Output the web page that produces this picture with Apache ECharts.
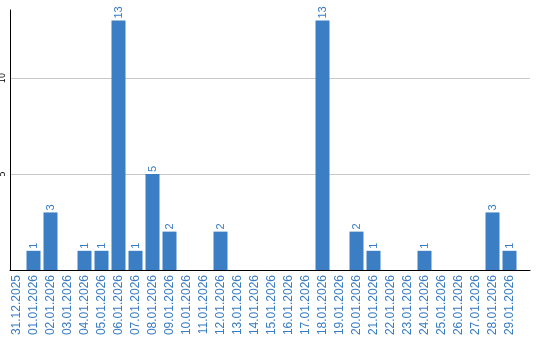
<!DOCTYPE html>
<html><head><meta charset="utf-8">
<script src="https://cdn.jsdelivr.net/npm/echarts@6/dist/echarts.min.js"></script>
<style>html,body{margin:0;padding:0;background:#fff}#c{width:540px;height:340px}</style>
</head><body><div id="c"></div>
<script>
const categories = ["31.12.2025","01.01.2026","02.01.2026","03.01.2026","04.01.2026","05.01.2026","06.01.2026","07.01.2026","08.01.2026","09.01.2026","10.01.2026","11.01.2026","12.01.2026","13.01.2026","14.01.2026","15.01.2026","16.01.2026","17.01.2026","18.01.2026","19.01.2026","20.01.2026","21.01.2026","22.01.2026","23.01.2026","24.01.2026","25.01.2026","26.01.2026","27.01.2026","28.01.2026","29.01.2026"];
const values = [0,1,3,0,1,1,13,1,5,2,0,0,2,0,0,0,0,0,13,0,2,1,0,0,1,0,0,0,3,1];
const yMax = 13.55;
const yInterval = 5;

const chart = echarts.init(document.getElementById('c'), null, {renderer:'canvas'});
chart.setOption({
  animation: false,
  grid: [
    {left: 8, width: 510, top: 10, bottom: 70, outerBoundsMode:'none', containLabel:false},
    {left: 10, right: 10, top: 10, bottom: 70, outerBoundsMode:'none', containLabel:false}
  ],
  xAxis: [
    {type:'category', gridIndex:0, data: categories, boundaryGap:true,
     axisLine:{show:false}, axisTick:{show:false},
     axisLabel:{rotate:90, interval:0, color:'#3a7cc2', fontSize:12, fontFamily:'Liberation Sans', margin:5}},
    {type:'value', gridIndex:1, min:0, max:1, axisLine:{show:true, onZero:true, lineStyle:{color:'#000', width:1}},
     axisTick:{show:false}, axisLabel:{show:false}, splitLine:{show:false}}
  ],
  yAxis: [
    {type:'value', gridIndex:0, min:0, max:yMax, interval:yInterval, show:false},
    {type:'value', gridIndex:1, min:0, max:yMax, interval:yInterval,
     axisLine:{show:true, lineStyle:{color:'#000', width:1}}, axisTick:{show:false},
     splitLine:{show:true, showMaxLine:false, showMinLine:false, lineStyle:{color:'#c8c8c8', width:1}},
     axisLabel:{rotate:90, fontSize:8, color:'#000', fontFamily:'DejaVu Sans', margin:3,
       showMaxLabel:false, showMinLabel:false,
       formatter: v => (v === 0 || v === yMax) ? '' : String(v)}}
  ],
  series: [{
    type:'bar', xAxisIndex:0, yAxisIndex:0, data: values, barWidth:14,
    itemStyle:{color:'#3b7ec3'},
    label:{show:true, position:'top', rotate:90, align:'left', verticalAlign:'middle', distance:2,
      color:'#3a7cc2', fontSize:11, fontFamily:'Liberation Sans',
      formatter: p => p.value === 0 ? '' : String(p.value)}
  }]
});
</script></body></html>
